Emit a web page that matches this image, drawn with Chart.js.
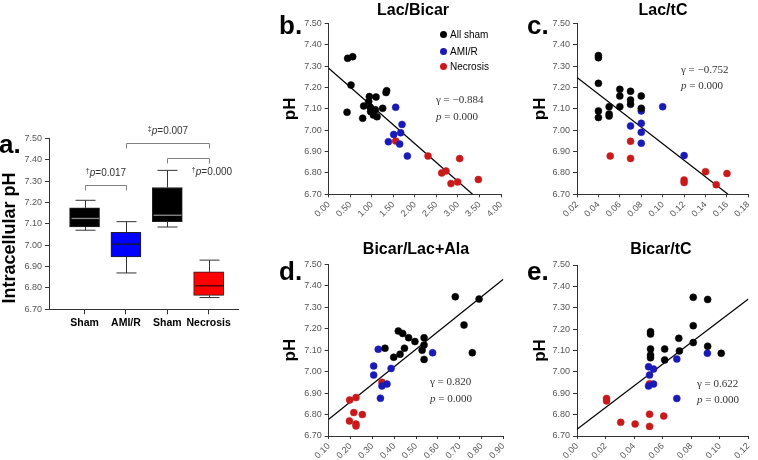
<!DOCTYPE html>
<html>
<head>
<meta charset="utf-8">
<script src="https://cdn.jsdelivr.net/npm/chart.js@4.4.1/dist/chart.umd.min.js"></script>
<style>
  body { margin: 0; background: #fff; }
  #fig { position: relative; width: 758px; height: 460px; overflow: hidden; font-family: "Liberation Sans", Arial, sans-serif; }
  #fig canvas { position: absolute; }
  .t { position: absolute; white-space: nowrap; line-height: 1; }
  .letter { font-weight: bold; font-size: 26px; color: #000; }
  .title { font-weight: bold; font-size: 16px; color: #000; transform: translate(-50%, -50%); }
  .stat { font-family: "Liberation Serif", "Times New Roman", serif; font-size: 11px; color: #333; }
  .legend { font-size: 10px; color: #000; }
  .dot { position: absolute; width: 7px; height: 7px; border-radius: 50%; }
  .ytitle { font-weight: bold; font-size: 18px; transform: translate(-50%, -50%) rotate(-90deg); }
</style>
</head>
<body>
<div id="fig">
  <canvas id="chartA" width="262" height="240" style="left:0;top:100px"></canvas>
  <canvas id="chartB" width="250" height="230" style="left:270px;top:0"></canvas>
  <canvas id="chartC" width="238" height="230" style="left:520px;top:0"></canvas>
  <canvas id="chartD" width="250" height="235" style="left:270px;top:225px"></canvas>
  <canvas id="chartE" width="238" height="235" style="left:520px;top:225px"></canvas>

  <div class="t letter" style="left:-1px;top:131px">a.</div>
  <div class="t letter" style="left:279px;top:12px">b.</div>
  <div class="t letter" style="left:527px;top:12px">c.</div>
  <div class="t letter" style="left:279px;top:258px">d.</div>
  <div class="t letter" style="left:527px;top:258px">e.</div>

  <div class="t ytitle" style="left:9px;top:238px">Intracellular pH</div>

  <div class="t title" style="left:413px;top:10px">Lac/Bicar</div>
  <div class="t title" style="left:663px;top:10px">Lac/tC</div>
  <div class="t title" style="left:416px;top:249px">Bicar/Lac+Ala</div>
  <div class="t title" style="left:661px;top:249px">Bicar/tC</div>

  <span class="dot" style="left:440px;top:31px;background:#000"></span>
  <span class="dot" style="left:440px;top:48px;background:#1a1ab8"></span>
  <span class="dot" style="left:440px;top:63px;background:#c81a1a"></span>
  <div class="t legend" style="left:450px;top:30px">All sham</div>
  <div class="t legend" style="left:450px;top:47px">AMI/R</div>
  <div class="t legend" style="left:450px;top:62px">Necrosis</div>

  <div class="t stat" style="left:436px;top:94px">&gamma; = &minus;0.884</div>
  <div class="t stat" style="left:436px;top:111px"><i>p</i> = 0.000</div>
  <div class="t stat" style="left:681px;top:63.5px">&gamma; = &minus;0.752</div>
  <div class="t stat" style="left:681px;top:79.5px"><i>p</i> = 0.000</div>
  <div class="t stat" style="left:430px;top:376px">&gamma; = 0.820</div>
  <div class="t stat" style="left:430px;top:392.5px"><i>p</i> = 0.000</div>
  <div class="t stat" style="left:697px;top:377.5px">&gamma; = 0.622</div>
  <div class="t stat" style="left:697px;top:393.5px"><i>p</i> = 0.000</div>
</div>

<script>
// ---- panel a: box plot ----
const aGroups = ['Sham', 'AMI/R', 'Sham', 'Necrosis'];
const aPos = [1, 2, 3, 4];
const aMin = [7.07, 6.87, 7.085, 6.755];
const aQ1 = [7.085, 6.945, 7.11, 6.765];
const aMed = [7.125, 7.005, 7.14, 6.81];
const aQ3 = [7.175, 7.06, 7.27, 6.875];
const aMax = [7.21, 7.11, 7.35, 6.93];

// significance brackets
const aTestFrom = [1, 2, 3];
const aTestTo = [2, 4, 4];
const aTestLevel = [7.28, 7.48, 7.41];
const aTestMark = ['\u2020', '\u2021', '\u2020'];
const aTestP = ['0.017', '0.007', '0.000'];

// shared y ticks
const pHTicks = [6.70, 6.80, 6.90, 7.00, 7.10, 7.20, 7.30, 7.40, 7.50];

// ---- panel b: Lac/Bicar ----
const bTicks = [0, 0.5, 1, 1.5, 2, 2.5, 3, 3.5, 4];
const bSham = [[0.44, 7.336], [0.557, 7.344], [0.518, 7.211], [0.426, 7.084], [0.789, 7.056],
  [0.812, 7.113], [0.944, 7.157], [0.928, 7.134], [0.967, 7.107], [0.975, 7.087], [1.037, 7.071],
  [1.083, 7.095], [1.099, 7.155], [1.122, 7.063], [1.253, 7.102], [1.331, 7.176], [1.346, 7.185]];
const bAmi = [[0.983, 7.087], [1.555, 7.107], [1.509, 6.98], [1.385, 6.946], [1.648, 6.935],
  [1.671, 6.988], [1.702, 7.027], [1.826, 6.879]];
const bNec = [[1.555, 6.949], [2.306, 6.879], [2.623, 6.80], [2.723, 6.809], [2.839, 6.75],
  [2.994, 6.758], [3.04, 6.867], [3.474, 6.769]];
const bFit = [[0, 7.29], [3.34, 6.70]];

// ---- panel c: Lac/tC ----
const cTicks = [0.02, 0.04, 0.06, 0.08, 0.10, 0.12, 0.14, 0.16, 0.18];
const cSham = [[0.04, 7.349], [0.04, 7.339], [0.04, 7.219], [0.04, 7.09], [0.04, 7.059],
  [0.05, 7.11], [0.05, 7.076], [0.05, 7.066], [0.06, 7.191], [0.06, 7.16], [0.06, 7.11],
  [0.07, 7.182], [0.07, 7.141], [0.07, 7.121], [0.08, 7.16], [0.08, 7.102]];
const cAmi = [[0.08, 7.09], [0.07, 7.02], [0.08, 7.032], [0.08, 6.99], [0.08, 6.939],
  [0.10, 7.11], [0.12, 6.881]];
const cNec = [[0.051, 6.879], [0.07, 6.948], [0.07, 6.868], [0.12, 6.767], [0.12, 6.755],
  [0.14, 6.806], [0.15, 6.745], [0.16, 6.797]];
const cFit = [[0.02, 7.247], [0.161, 6.70]];

// ---- panel d: Bicar/Lac+Ala ----
const dTicks = [0.10, 0.20, 0.30, 0.40, 0.50, 0.60, 0.70, 0.80, 0.90];
const dSham = [[0.68, 7.349], [0.789, 7.338], [0.72, 7.217], [0.758, 7.088], [0.439, 7.178],
  [0.419, 7.189], [0.466, 7.158], [0.495, 7.14], [0.537, 7.158], [0.537, 7.124], [0.528, 7.10],
  [0.537, 7.057], [0.447, 7.109], [0.427, 7.081], [0.358, 7.109], [0.398, 7.067]];
const dAmi = [[0.327, 7.104], [0.306, 7.026], [0.306, 6.984], [0.386, 7.015], [0.337, 6.876],
  [0.344, 6.933], [0.367, 6.942], [0.576, 7.088]];
const dNec = [[0.344, 6.95], [0.196, 6.868], [0.225, 6.879], [0.215, 6.809], [0.254, 6.80],
  [0.195, 6.77], [0.225, 6.756], [0.225, 6.747]];
const dFit = [[0.10, 6.778], [0.90, 7.43]];

// ---- panel e: Bicar/tC ----
const eTicks = [0, 0.02, 0.04, 0.06, 0.08, 0.10, 0.12];
const eSham = [[0.0814, 7.349], [0.0915, 7.339], [0.0814, 7.216], [0.0814, 7.137], [0.0915, 7.12],
  [0.101, 7.087], [0.0713, 7.157], [0.0717, 7.098], [0.0614, 7.107], [0.0614, 7.056],
  [0.0515, 7.188], [0.0515, 7.177], [0.0515, 7.107], [0.0515, 7.079], [0.0515, 7.066]];
const eAmi = [[0.0501, 7.024], [0.0508, 6.985], [0.0536, 7.013], [0.0501, 6.934], [0.0536, 6.943],
  [0.0699, 7.06], [0.0699, 6.876], [0.0913, 7.087]];
const eNec = [[0.0207, 6.876], [0.0207, 6.864], [0.0306, 6.764], [0.0407, 6.756], [0.0508, 6.745],
  [0.0508, 6.802], [0.0607, 6.793], [0.0508, 6.944]];
const eFit = [[0, 6.731], [0.12, 7.341]];

const sans = "'Liberation Sans', Arial, sans-serif";
const dotColors = ['#000000', '#1a1ab8', '#c81a1a'];
const boxFill = ['#000000', '#0000ff', '#000000', '#ff0000'];
const boxMedian = ['#8c8c8c', '#1a1a1a', '#8c8c8c', '#3a0000'];

Chart.defaults.font.family = sans;

const toPts = arr => arr.map(([x, y]) => ({ x: x, y: y }));

function yAxis(width, withTitle) {
  return {
    min: 6.7, max: 7.5,
    afterBuildTicks: s => { s.ticks = pHTicks.map(v => ({ value: v })); },
    afterFit: s => { s.width = width; },
    ticks: { callback: v => v.toFixed(2), font: { size: 9 }, color: '#555', padding: 3 },
    grid: { drawOnChartArea: false, tickLength: 4, color: '#333' },
    border: { color: '#333' },
    title: withTitle ? { display: true, text: 'pH', font: { size: 17, weight: 'bold' }, color: '#000', padding: { top: 10, bottom: 0 } } : { display: false }
  };
}

// whiskers, medians and test brackets for the box plot
const boxExtras = {
  id: 'boxExtras',
  afterDatasetsDraw(chart) {
    const { ctx, scales: { x, y } } = chart;
    const seg = (x1, y1, x2, y2) => { ctx.beginPath(); ctx.moveTo(x1, y1); ctx.lineTo(x2, y2); ctx.stroke(); };
    ctx.save();
    ctx.lineWidth = 1;
    aPos.forEach((p, i) => {
      const cx = Math.round(x.getPixelForValue(p)) + 0.5;
      const yMax = y.getPixelForValue(aMax[i]), yMin = y.getPixelForValue(aMin[i]);
      ctx.strokeStyle = '#333';
      seg(cx, y.getPixelForValue(aQ3[i]), cx, yMax);
      seg(cx, y.getPixelForValue(aQ1[i]), cx, yMin);
      seg(cx - 10, yMax, cx + 10, yMax);
      seg(cx - 10, yMin, cx + 10, yMin);
      ctx.strokeStyle = boxMedian[i];
      ctx.lineWidth = 1.3;
      const yMed = y.getPixelForValue(aMed[i]);
      seg(cx - 14, yMed, cx + 14, yMed);
      ctx.lineWidth = 1;
    });
    aTestFrom.forEach((from, i) => {
      const x1 = Math.round(x.getPixelForValue(from)) + 0.5;
      const x2 = Math.round(x.getPixelForValue(aTestTo[i])) + 0.5;
      const ly = Math.round(y.getPixelForValue(aTestLevel[i])) + 0.5;
      ctx.strokeStyle = '#808080';
      ctx.beginPath();
      ctx.moveTo(x1, ly + 5); ctx.lineTo(x1, ly); ctx.lineTo(x2, ly); ctx.lineTo(x2, ly + 5);
      ctx.stroke();
      // label: mark + italic p + value
      ctx.font = '7px ' + sans; const wm = ctx.measureText(aTestMark[i]).width;
      ctx.font = 'italic 10px ' + sans; const wp = ctx.measureText('p').width;
      ctx.font = '10px ' + sans; const wv = ctx.measureText('=' + aTestP[i]).width;
      const total = wm + wp + wv;
      let cx, base;
      if (i < 2) { cx = (x1 + x2) / 2; base = ly - 9.5; }
      else { cx = x2 + 2.5; base = ly + 16; }
      let tx = cx - total / 2;
      ctx.fillStyle = '#333';
      ctx.textAlign = 'left';
      ctx.textBaseline = 'alphabetic';
      ctx.font = '7px ' + sans; ctx.fillText(aTestMark[i], tx, base - 3); tx += wm;
      ctx.font = 'italic 10px ' + sans; ctx.fillText('p', tx, base); tx += wp;
      ctx.font = '10px ' + sans; ctx.fillText('=' + aTestP[i], tx, base);
    });
    ctx.restore();
  }
};

new Chart(document.getElementById('chartA'), {
  type: 'bar',
  data: {
    datasets: [{
      data: aPos.map((p, i) => ({ x: p, y: [aQ1[i], aQ3[i]] })),
      backgroundColor: boxFill,
      borderColor: '#222',
      borderWidth: 1,
      borderSkipped: false,
      barThickness: 30
    }]
  },
  options: {
    responsive: false,
    animation: false,
    layout: { padding: { left: 0, top: 38.3, right: 24, bottom: 0 } },
    plugins: { legend: { display: false }, tooltip: { enabled: false } },
    scales: {
      x: {
        type: 'linear', min: 0.14, max: 4.71, offset: false,
        afterBuildTicks: s => { s.ticks = aPos.map(v => ({ value: v })); },
        afterFit: s => { s.height = 30.7; },
        ticks: { callback: (v, i) => aGroups[i], autoSkip: false, maxRotation: 0, font: { size: 10.5, weight: 'bold' }, color: '#000', padding: 3 },
        grid: { drawOnChartArea: false, offset: false, tickLength: 5, color: '#333' },
        border: { color: '#333' }
      },
      y: yAxis(49, false)
    }
  },
  plugins: [boxExtras]
});

function scatterChart(id, xTicks, sham, ami, nec, fit, pad, xHeight, yWidth) {
  const dot = (label, pts, color) => ({
    label: label, data: toPts(pts), backgroundColor: color, borderColor: color,
    pointRadius: 3.5, borderWidth: 0.5
  });
  return new Chart(document.getElementById(id), {
    type: 'scatter',
    data: {
      datasets: [
        dot('All sham', sham, dotColors[0]),
        dot('AMI/R', ami, dotColors[1]),
        dot('Necrosis', nec, dotColors[2]),
        { type: 'line', data: toPts(fit), borderColor: '#000', borderWidth: 1.2, pointRadius: 0, fill: false }
      ]
    },
    options: {
      responsive: false,
      animation: false,
      layout: { padding: pad },
      plugins: { legend: { display: false }, tooltip: { enabled: false } },
      scales: {
        x: {
          type: 'linear', min: xTicks[0], max: xTicks[xTicks.length - 1],
          afterBuildTicks: s => { s.ticks = xTicks.map(v => ({ value: v })); },
          afterFit: s => { s.height = xHeight; },
          ticks: { callback: v => v.toFixed(2), autoSkip: false, minRotation: 45, maxRotation: 45, font: { size: 9 }, color: '#555', padding: 2 },
          grid: { drawOnChartArea: false, tickLength: 3, color: '#333' },
          border: { color: '#333' }
        },
        y: yAxis(yWidth, true)
      }
    }
  });
}

scatterChart('chartB', bTicks, bSham, bAmi, bNec, bFit, { left: 0, top: 23.3, right: 19, bottom: 0 }, 35.7, 58.7);
scatterChart('chartC', cTicks, cSham, cAmi, cNec, cFit, { left: 0, top: 23.3, right: 4.7, bottom: 0 }, 35.7, 57);
scatterChart('chartD', dTicks, dSham, dAmi, dNec, dFit, { left: 0, top: 39.3, right: 16.7, bottom: 0 }, 24, 58.7);
scatterChart('chartE', eTicks, eSham, eAmi, eNec, eFit, { left: 0, top: 40, right: 7, bottom: 0 }, 24, 57);
</script>
</body>
</html>
